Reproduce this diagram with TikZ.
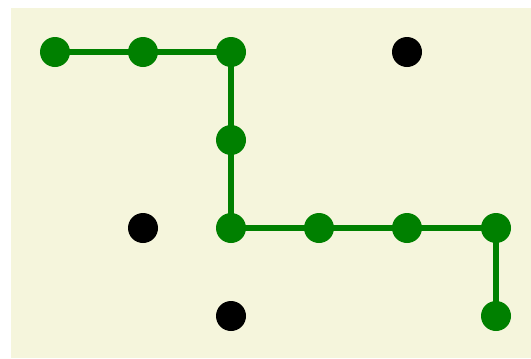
\documentclass[tikz,border=0pt]{standalone}
\usetikzlibrary{backgrounds}
\definecolor{bg}{RGB}{245,245,220}
\definecolor{gr}{RGB}{0,128,0}
\begin{document}
\begin{tikzpicture}[x=0.03cm,y=-0.03cm,
  gdot/.style={circle,fill=gr,inner sep=0pt,minimum size=0.9cm},
  kdot/.style={circle,fill=black,inner sep=0pt,minimum size=0.9cm},
  link/.style={draw=gr,line width=0.18cm}]
\useasboundingbox (0,0) rectangle (531,358);
\node[gdot] (a) at (55,52) {};
\node[gdot] (b) at (143,52) {};
\node[gdot] (c) at (231,52) {};
\node[gdot] (d) at (231,140) {};
\node[gdot] (e) at (231,228) {};
\node[gdot] (f) at (319,228) {};
\node[gdot] (g) at (407,228) {};
\node[gdot] (h) at (496,228) {};
\node[gdot] (i) at (496,316) {};
\node[kdot] (k1) at (407,52) {};
\node[kdot] (k2) at (143,228) {};
\node[kdot] (k3) at (231,316) {};
\begin{scope}[on background layer]
\fill[white] (0,0) rectangle (531,358);
\fill[bg] (11,8) rectangle (531,358);
\draw[link] (a.center) -- (b.center) -- (c.center) -- (d.center) -- (e.center) -- (f.center) -- (g.center) -- (h.center) -- (i.center);
\end{scope}
\end{tikzpicture}
\end{document}
